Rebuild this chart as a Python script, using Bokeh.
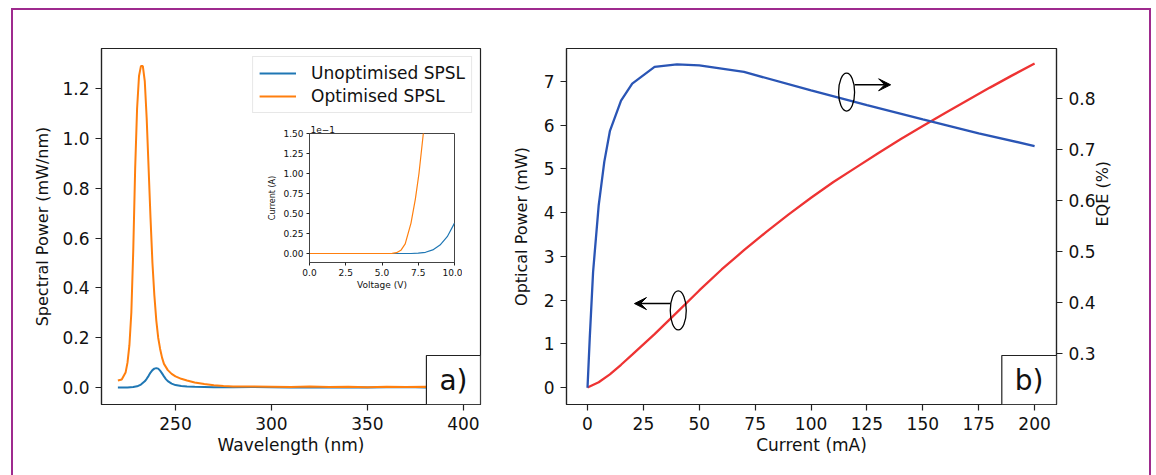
import math
from bokeh.plotting import figure
from bokeh.models import (Range1d, LinearAxis, FixedTicker, Label, Arrow, VeeHead, Div,
                          PrintfTickFormatter, GridBox)
from bokeh.embed import file_html
from bokeh.resources import INLINE

FONT = "DejaVu Sans"

# ---------------- data: panel a) spectra (units of 1e-5 mW/nm) ----------------
wl_unopt = [220, 225, 228, 230, 232, 234, 235, 236, 237, 238, 239, 240, 241, 242, 243, 244, 245,
            246, 248, 250, 253, 256, 260, 265, 270, 280, 290, 300, 310, 320, 330, 340, 350, 360,
            370, 380, 390, 400]
sp_unopt = [0.0, 0.0, 0.002, 0.005, 0.012, 0.025, 0.035, 0.047, 0.060, 0.070, 0.076, 0.078, 0.076,
            0.068, 0.057, 0.045, 0.034, 0.026, 0.016, 0.010, 0.006, 0.004, 0.003, 0.002, 0.001,
            0.001, 0.002, 0.001, 0.0, 0.001, 0.0, 0.001, 0.0, 0.001, 0.002, 0.0, 0.001, 0.0]

wl_opt = [220, 222, 224, 225, 226, 227, 228, 229, 230, 231, 232, 233, 234, 235, 236, 237, 238,
          239, 240, 241, 242, 243, 244, 246, 248, 250, 253, 256, 260, 265, 270, 275, 280, 290,
          300, 310, 320, 330, 340, 350, 360, 370, 380, 390, 400]
sp_opt = [0.028, 0.032, 0.06, 0.10, 0.17, 0.30, 0.55, 0.88, 1.12, 1.25, 1.29, 1.29, 1.23, 1.08,
          0.88, 0.68, 0.50, 0.37, 0.27, 0.20, 0.155, 0.12, 0.095, 0.07, 0.055, 0.045, 0.035,
          0.028, 0.02, 0.014, 0.009, 0.006, 0.004, 0.004, 0.003, 0.002, 0.004, 0.002, 0.003,
          0.001, 0.003, 0.002, 0.003, 0.002, 0.003]

# ---------------- data: inset I-V (units of 1e-1 A) ----------------
v_unopt = [0.0, 5.0, 7.0, 7.5, 8.0, 8.5, 9.0, 9.5, 10.0]
i_unopt = [0.0, 0.0, 0.0, 0.004, 0.015, 0.045, 0.105, 0.21, 0.38]
v_opt = [0.0, 5.0, 5.7, 6.0, 6.3, 6.6, 7.0, 7.3, 7.55, 7.85, 8.0]
i_opt = [0.0, 0.0, 0.002, 0.01, 0.04, 0.12, 0.38, 0.68, 1.0, 1.5, 1.75]

# ---------------- data: panel b) ----------------
cur_p = [0, 5, 10, 15, 20, 30, 40, 50, 60, 70, 80, 90, 100, 110, 120, 130, 140, 150, 160, 170,
         180, 190, 200]
opt_power = [0.0, 0.12, 0.3, 0.52, 0.75, 1.22, 1.72, 2.22, 2.70, 3.14, 3.56, 3.96, 4.34, 4.70,
             5.03, 5.36, 5.68, 5.98, 6.28, 6.57, 6.86, 7.14, 7.41]
cur_e = [0, 1, 2.5, 5, 7.5, 10, 15, 20, 30, 40, 50, 70, 100, 125, 150, 175, 200]
eqe = [0.233, 0.33, 0.46, 0.59, 0.675, 0.735, 0.795, 0.828, 0.861, 0.866, 0.864, 0.851, 0.815,
       0.786, 0.758, 0.731, 0.706]

x_ticks_a = [250, 300, 350, 400]
y_ticks_a = [0.0, 0.2, 0.4, 0.6, 0.8, 1.0, 1.2]
x_ticks_b = [0, 25, 50, 75, 100, 125, 150, 175, 200]
y_ticks_b = [0, 1, 2, 3, 4, 5, 6, 7]
y2_ticks_b = [0.3, 0.4, 0.5, 0.6, 0.7, 0.8]
x_ticks_in = [0.0, 2.5, 5.0, 7.5, 10.0]
y_ticks_in = [0.0, 0.25, 0.5, 0.75, 1.0, 1.25, 1.5]

BLUE = "#1f77b4"
ORANGE = "#ff7f0e"
B_BLUE = "#2a55b5"
B_RED = "#ee3333"
AX = "#222222"


def style_axis(ax, fs="17px", lfs="17px", tick=6, standoff=6, lstand=6):
    ax.axis_line_color = AX
    ax.axis_line_width = 1.2
    ax.major_tick_line_color = AX
    ax.major_tick_line_width = 1.2
    ax.major_tick_out = tick
    ax.major_tick_in = 0
    ax.minor_tick_line_color = None
    ax.major_label_text_font = FONT
    ax.major_label_text_font_size = fs
    ax.major_label_text_color = "#111111"
    ax.major_label_standoff = standoff
    ax.axis_label_text_font = FONT
    ax.axis_label_text_font_size = lfs
    ax.axis_label_text_font_style = "normal"
    ax.axis_label_text_color = "#111111"
    ax.axis_label_standoff = lstand


def base(p):
    p.grid.visible = False
    p.outline_line_color = AX
    p.outline_line_width = 1.2
    p.background_fill_color = "white"
    p.border_fill_color = "white"


# ================= panel a =================
p1 = figure(width=500, height=475, x_range=Range1d(211.46, 408.9), y_range=Range1d(-0.068, 1.3605),
            output_backend="svg", toolbar_location=None,
            min_border_left=101, min_border_right=20, min_border_top=48, min_border_bottom=71)
base(p1)
p1.line(wl_unopt, sp_unopt, line_color=BLUE, line_width=2, legend_label="Unoptimised SPSL")
p1.line(wl_opt, sp_opt, line_color=ORANGE, line_width=2, legend_label="Optimised SPSL")
p1.xaxis.ticker = FixedTicker(ticks=x_ticks_a)
p1.yaxis.ticker = FixedTicker(ticks=y_ticks_a)
p1.yaxis.formatter = PrintfTickFormatter(format="%.1f")
p1.xaxis.axis_label = "Wavelength (nm)"
p1.yaxis.axis_label = "Spectral Power (mW/nm)"
style_axis(p1.xaxis[0], lstand=2)
style_axis(p1.yaxis[0], lfs="16px", lstand=7)

lg = p1.legend[0]
lg.location = "top_right"
lg.margin = 8
lg.padding = 6
lg.spacing = 3
lg.glyph_width = 37
lg.glyph_height = 20
lg.label_standoff = 15
lg.label_text_font = FONT
lg.label_text_font_size = "17px"
lg.label_text_color = "#111111"
lg.border_line_color = "#cfcfcf"
lg.border_line_width = 1.2
lg.background_fill_alpha = 0.85

p1.add_layout(Label(x=211.46, y=1.3605, text="1e\u22125", text_font=FONT, text_font_size="17px",
                    text_align="left", text_baseline="bottom", y_offset=1, text_color="#111111"))
p1.add_layout(Label(x=408.9, y=-0.068, text="a)", text_font=FONT, text_font_size="28px",
                    anchor="bottom_right", padding=(13, 8), background_fill_color="white",
                    border_line_color=AX, border_line_width=1.2, text_color="#111111"))

# ================= inset =================
ins = figure(width=197, height=184, x_range=Range1d(0, 10), y_range=Range1d(-0.1125, 1.5),
             output_backend="svg", toolbar_location=None,
             min_border_left=44, min_border_right=8, min_border_top=25, min_border_bottom=30)
base(ins)
ins.border_fill_alpha = 0
ins.outline_line_color = "#444444"
ins.outline_line_width = 1
ins.line(v_unopt, i_unopt, line_color=BLUE, line_width=1.2)
ins.line(v_opt, i_opt, line_color=ORANGE, line_width=1.2)
ins.xaxis.ticker = FixedTicker(ticks=x_ticks_in)
ins.yaxis.ticker = FixedTicker(ticks=y_ticks_in)
ins.xaxis.formatter = PrintfTickFormatter(format="%.1f")
ins.yaxis.formatter = PrintfTickFormatter(format="%.2f")
ins.xaxis.axis_label = "Voltage (V)"
ins.yaxis.axis_label = "Current (A)"
style_axis(ins.xaxis[0], fs="9px", lfs="9px", tick=3, standoff=3, lstand=1)
style_axis(ins.yaxis[0], fs="9px", lfs="8px", tick=3, standoff=3, lstand=3)
for a in (ins.xaxis[0], ins.yaxis[0]):
    a.axis_line_color = "#444444"
    a.axis_line_width = 1
    a.major_tick_line_width = 1
ins.title.text = "1e\u22121"
ins.title.align = "left"
ins.title.text_font = FONT
ins.title.text_font_size = "9px"
ins.title.text_font_style = "normal"
ins.title.text_color = "#111111"
ins.title.standoff = 2
ins.title.offset = 1

# ================= panel b =================
p2 = figure(width=656, height=475, x_range=Range1d(-9.4, 209.8), y_range=Range1d(-0.389, 7.755),
            output_backend="svg", toolbar_location=None,
            min_border_left=66, min_border_right=100, min_border_top=48, min_border_bottom=71)
base(p2)
p2.extra_y_ranges = {"eqe": Range1d(0.2002, 0.8969)}
p2.line(cur_p, opt_power, line_color=B_RED, line_width=2.3)
p2.line(cur_e, eqe, line_color=B_BLUE, line_width=2.3, y_range_name="eqe")
p2.xaxis.ticker = FixedTicker(ticks=x_ticks_b)
p2.yaxis.ticker = FixedTicker(ticks=y_ticks_b)
p2.xaxis.axis_label = "Current (mA)"
p2.yaxis.axis_label = "Optical Power (mW)"
style_axis(p2.xaxis[0], lstand=2)
style_axis(p2.yaxis[0], lfs="16px", lstand=10)
ax2 = LinearAxis(y_range_name="eqe", axis_label="EQE (%)", ticker=FixedTicker(ticks=y2_ticks_b),
                 formatter=PrintfTickFormatter(format="%.1f"))
style_axis(ax2, lfs="16px", lstand=4)
ax2.axis_label_orientation = math.pi / 2
p2.add_layout(ax2, "right")

# annotations: ellipses with arrows
p2.ellipse(x=[115.9], y=[6.756], width=16, height=38, width_units="screen", height_units="screen",
           fill_color=None, line_color="black", line_width=1.3)
p2.ellipse(x=[40.6], y=[1.762], width=16, height=39, width_units="screen", height_units="screen",
           fill_color=None, line_color="black", line_width=1.3)
p2.add_layout(Arrow(x_start=119.5, y_start=6.925, x_end=135.6, y_end=6.925, line_width=1.5,
                    line_color="black", end=VeeHead(size=12, fill_color="black", line_color="black")))
p2.add_layout(Arrow(x_start=37.1, y_start=1.92, x_end=21.0, y_end=1.92, line_width=1.5,
                    line_color="black", end=VeeHead(size=12, fill_color="black", line_color="black")))
p2.add_layout(Label(x=209.8, y=-0.389, text="b)", text_font=FONT, text_font_size="28px",
                    anchor="bottom_right", padding=(13, 8), background_fill_color="white",
                    border_line_color=AX, border_line_width=1.2, text_color="#111111"))

frame_div = Div(text="", width=1140, height=472,
                styles={"position": "absolute", "left": "6px", "top": "3px",
                        "border-top": "2px solid #9e2a8e", "border-left": "2px solid #9e2a8e",
                        "border-right": "2px solid #9e2a8e", "pointer-events": "none",
                        "z-index": "10", "box-sizing": "border-box"})

layout = GridBox(children=[(p1, 0, 0, 3, 3), (ins, 1, 1, 1, 1), (p2, 0, 3, 3, 1),
                           (frame_div, 0, 0, 3, 4)],
                 rows=["108px", "184px", "183px"], cols=["265px", "197px", "38px", "656px"],
                 spacing=0, styles={"position": "relative"})

open("out.html", "w").write(file_html(layout, INLINE))
